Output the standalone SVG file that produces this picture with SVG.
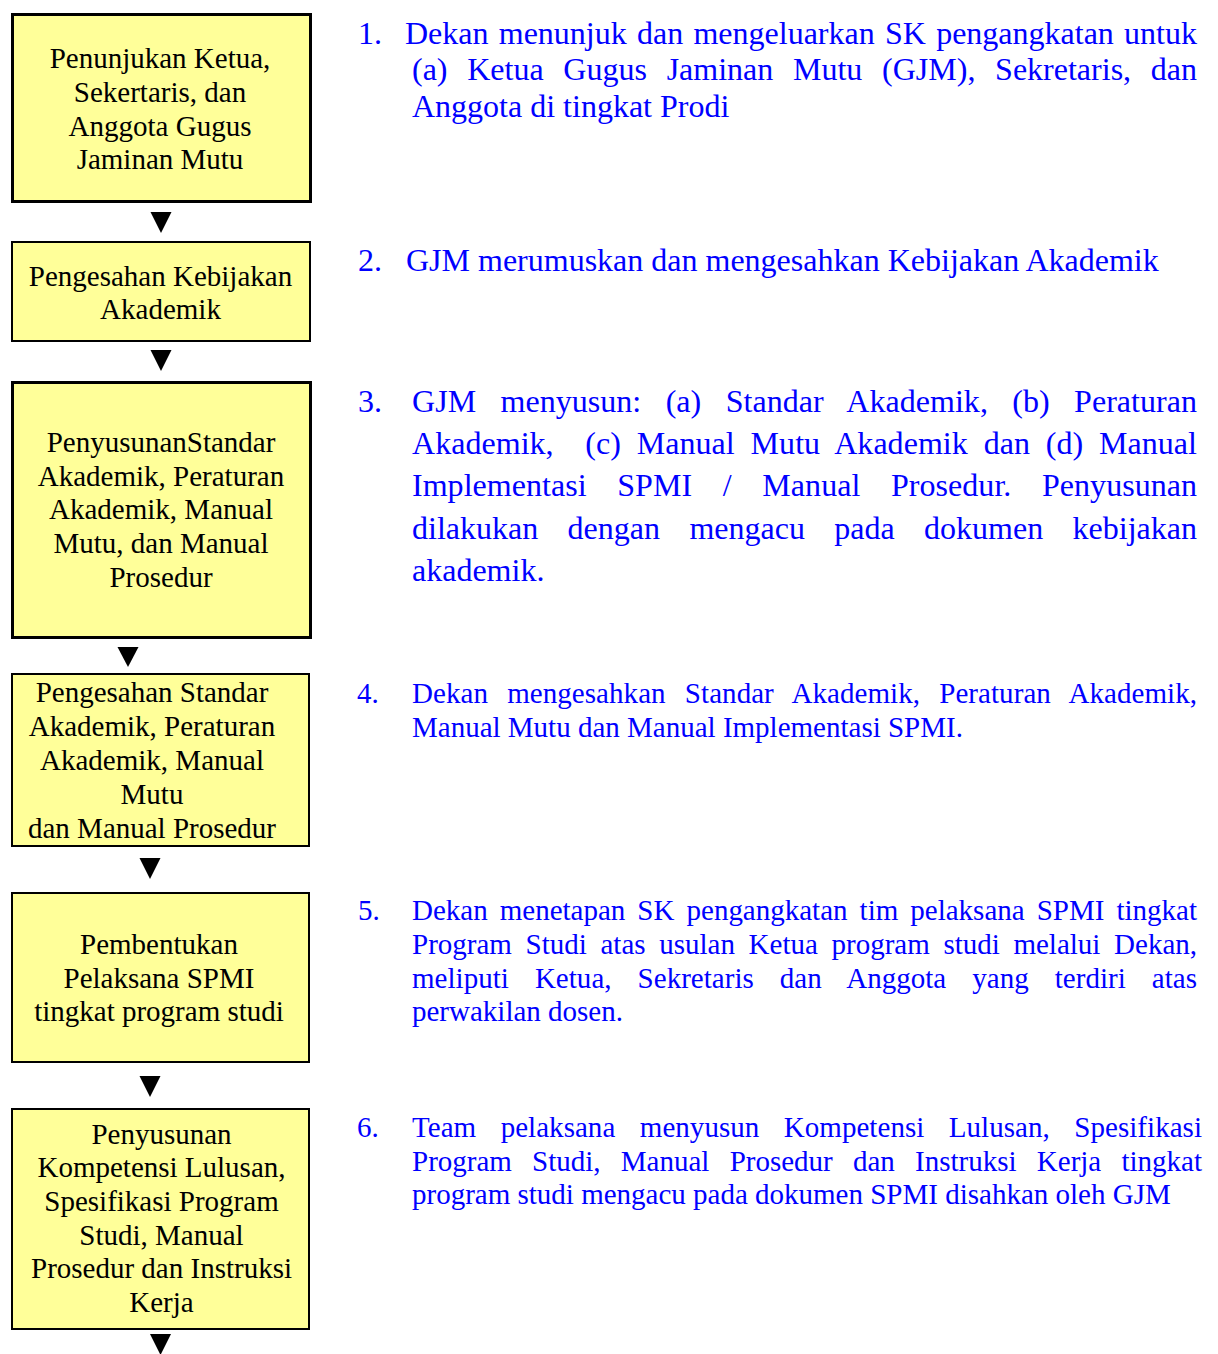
<svg xmlns="http://www.w3.org/2000/svg" width="1218" height="1354" viewBox="0 0 1218 1354">
<style>
.box{fill:#ffff99;stroke:#000}
.thick{stroke-width:3}
.thin{stroke-width:2}
.bt{font-family:"Liberation Serif","Times New Roman",serif;font-size:29px;fill:#000;text-anchor:middle}
.rt{font-family:"Liberation Serif","Times New Roman",serif;fill:#0000ff}
.f32{font-size:32px}
.f29{font-size:29px}
.arrow{fill:#000}
</style>
<rect width="1218" height="1354" fill="#fff"/>
<g id="node1">
<rect class="box thick" x="12.5" y="14.5" width="298" height="187"/>
<text class="bt" x="160" y="68">Penunjukan Ketua,</text>
<text class="bt" x="160" y="102">Sekertaris, dan</text>
<text class="bt" x="160" y="136">Anggota Gugus</text>
<text class="bt" x="160" y="169">Jaminan Mutu</text>
</g>
<g id="node2">
<rect class="box thin" x="12" y="242" width="298" height="99"/>
<text class="bt" x="160.5" y="285.5">Pengesahan Kebijakan</text>
<text class="bt" x="160.5" y="319">Akademik</text>
</g>
<g id="node3">
<rect class="box thick" x="12.5" y="382.5" width="298" height="255"/>
<text class="bt" x="161" y="452">PenyusunanStandar</text>
<text class="bt" x="161" y="485.7">Akademik, Peraturan</text>
<text class="bt" x="161" y="519.4">Akademik, Manual</text>
<text class="bt" x="161" y="553.1">Mutu, dan Manual</text>
<text class="bt" x="161" y="586.8">Prosedur</text>
</g>
<g id="node4">
<rect class="box thin" x="12" y="674" width="297" height="172"/>
<text class="bt" x="152" y="702">Pengesahan Standar</text>
<text class="bt" x="152" y="735.9">Akademik, Peraturan</text>
<text class="bt" x="152" y="769.8">Akademik, Manual</text>
<text class="bt" x="152" y="803.7">Mutu</text>
<text class="bt" x="152" y="837.5">dan Manual Prosedur</text>
</g>
<g id="node5">
<rect class="box thin" x="12" y="893" width="297" height="169"/>
<text class="bt" x="159" y="953.5">Pembentukan</text>
<text class="bt" x="159" y="987.5">Pelaksana SPMI</text>
<text class="bt" x="159" y="1021">tingkat program studi</text>
</g>
<g id="node6">
<rect class="box thin" x="12" y="1109" width="297" height="220"/>
<text class="bt" x="161.5" y="1143.5">Penyusunan</text>
<text class="bt" x="161.5" y="1177.2">Kompetensi Lulusan,</text>
<text class="bt" x="161.5" y="1210.9">Spesifikasi Program</text>
<text class="bt" x="161.5" y="1244.6">Studi, Manual</text>
<text class="bt" x="161.5" y="1278.3">Prosedur dan Instruksi</text>
<text class="bt" x="161.5" y="1312">Kerja</text>
</g>
<g id="connectors">
<polygon class="arrow" points="150.5,212 171.5,212 161,233"/>
<polygon class="arrow" points="150.5,350 171.5,350 161,371"/>
<polygon class="arrow" points="117.5,647 138.5,647 128,667"/>
<polygon class="arrow" points="139.5,858 160.5,858 150,879"/>
<polygon class="arrow" points="139.5,1076 160.5,1076 150,1097"/>
<polygon class="arrow" points="150,1334 171,1334 160.5,1355"/>
</g>
<g id="desc1" class="rt f32">
<text x="358" y="43.5">1.</text>
<text x="405" y="43.5" word-spacing="2.25" textLength="792" lengthAdjust="spacing">Dekan menunjuk dan mengeluarkan SK pengangkatan untuk</text>
<text x="412" y="80" word-spacing="11.7" textLength="785" lengthAdjust="spacing">(a) Ketua Gugus Jaminan Mutu (GJM), Sekretaris, dan</text>
<text x="412" y="116.5">Anggota di tingkat Prodi</text>
</g>
<g id="desc2" class="rt f32">
<text x="358" y="271">2.</text>
<text x="406" y="271">GJM merumuskan dan mengesahkan Kebijakan Akademik</text>
</g>
<g id="desc3" class="rt f32">
<text x="358" y="412">3.</text>
<text x="412" y="412" word-spacing="16.3" textLength="785" lengthAdjust="spacing">GJM menyusun: (a) Standar Akademik, (b) Peraturan</text>
<text x="412" y="454" xml:space="preserve" word-spacing="7.8" textLength="785" lengthAdjust="spacing">Akademik,  (c) Manual Mutu Akademik dan (d) Manual</text>
<text x="412" y="496" word-spacing="22.6" textLength="785" lengthAdjust="spacing">Implementasi SPMI / Manual Prosedur. Penyusunan</text>
<text x="412" y="538.5" word-spacing="21.4" textLength="785" lengthAdjust="spacing">dilakukan dengan mengacu pada dokumen kebijakan</text>
<text x="412" y="580.5">akademik.</text>
</g>
<g id="desc4" class="rt f29">
<text x="357" y="703">4.</text>
<text x="412" y="703" word-spacing="11.9" textLength="785" lengthAdjust="spacing">Dekan mengesahkan Standar Akademik, Peraturan Akademik,</text>
<text x="412" y="737">Manual Mutu dan Manual Implementasi SPMI.</text>
</g>
<g id="desc5" class="rt f29">
<text x="358" y="920">5.</text>
<text x="412" y="920" word-spacing="4.8" textLength="785" lengthAdjust="spacing">Dekan menetapan SK pengangkatan tim pelaksana SPMI tingkat</text>
<text x="412" y="954" word-spacing="6.4" textLength="785" lengthAdjust="spacing">Program Studi atas usulan Ketua program studi melalui Dekan,</text>
<text x="412" y="988" word-spacing="18.7" textLength="785" lengthAdjust="spacing">meliputi Ketua, Sekretaris dan Anggota yang terdiri atas</text>
<text x="412" y="1021">perwakilan dosen.</text>
</g>
<g id="desc6" class="rt f29">
<text x="357" y="1137">6.</text>
<text x="412" y="1137" word-spacing="17.2" textLength="790" lengthAdjust="spacing">Team pelaksana menyusun Kompetensi Lulusan, Spesifikasi</text>
<text x="412" y="1171" word-spacing="13" textLength="790" lengthAdjust="spacing">Program Studi, Manual Prosedur dan Instruksi Kerja tingkat</text>
<text x="412" y="1204">program studi mengacu pada dokumen SPMI disahkan oleh GJM</text>
</g>
</svg>
